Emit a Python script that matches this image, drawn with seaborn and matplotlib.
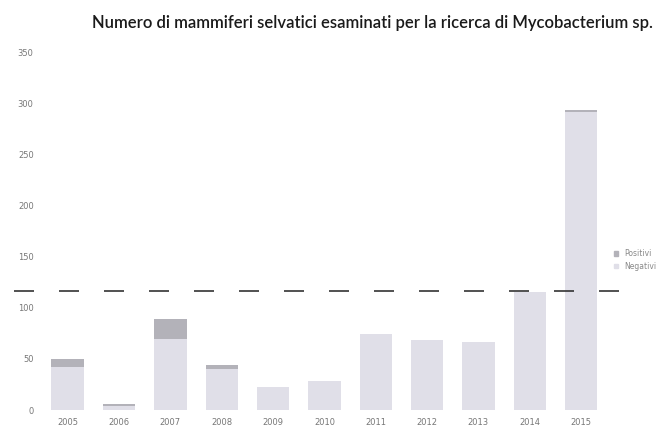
import matplotlib
matplotlib.use("Agg")
import matplotlib.pyplot as plt
import seaborn as sns
import pandas as pd
from matplotlib.patches import Patch

# Dati
anni = ["2005", "2006", "2007", "2008", "2009", "2010", "2011", "2012", "2013", "2014", "2015"]
negativi = [42, 4, 70, 40, 23, 28, 74, 69, 67, 115, 291]
positivi = [8, 2, 19, 4, 0, 0, 0, 0, 0, 0, 2]
linea_scansione = 116  # riga tratteggiata della scansione

df = pd.DataFrame({"Anno": anni, "Negativi": negativi, "Positivi": positivi})
df["Totale"] = df["Negativi"] + df["Positivi"]

col_pos = "#b3b2b9"
col_neg = "#e0dfe8"

sns.set_style("white")
fig, ax = plt.subplots(figsize=(6.56, 4.34), dpi=100)
fig.subplots_adjust(left=0.064, right=0.925, top=0.88, bottom=0.055)

# barre impilate: totale (positivi) sotto, negativi sopra
sns.barplot(data=df, x="Anno", y="Totale", color=col_pos, width=0.63,
            saturation=1, linewidth=0, ax=ax)
sns.barplot(data=df, x="Anno", y="Negativi", color=col_neg, width=0.63,
            saturation=1, linewidth=0, ax=ax)

ax.set_ylim(0, 350)
ax.set_xlim(-0.5, len(anni) - 0.5)
ax.set_yticks(range(0, 351, 50))
ax.tick_params(axis="both", length=0, labelsize=6, colors="#777777", pad=6)
ax.set_xlabel("")
ax.set_ylabel("")
sns.despine(ax=ax, left=True, bottom=True)

ax.set_title("Numero di mammiferi selvatici esaminati per la ricerca di Mycobacterium sp.",
             fontsize=12, color="#1a1a1a", family="Lato", weight="semibold",
             x=0.585, pad=17)

ax.axhline(linea_scansione, xmin=-0.05, xmax=1.06, color="#333333", lw=1.2,
           ls=(0, (12, 15)), clip_on=False)

handles = [Patch(color=col_pos, label="Positivi"), Patch(color=col_neg, label="Negativi")]
ax.legend(handles=handles, loc="center left", bbox_to_anchor=(1.0, 0.42),
          frameon=False, fontsize=5.5, handlelength=0.6, handleheight=0.6,
          labelcolor="#888888")

fig.savefig("out.png", dpi=100)
